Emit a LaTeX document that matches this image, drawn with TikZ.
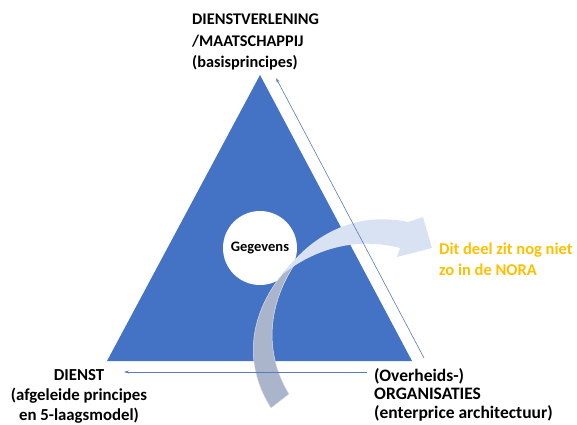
\documentclass[tikz,border=0pt]{standalone}
\usepackage{fontspec}
\setmainfont{Carlito}
\usetikzlibrary{arrows.meta}
\definecolor{triblue}{HTML}{4472C4}
\definecolor{bandgray}{HTML}{AAB4CA}
\definecolor{bandlight}{HTML}{D9E2F3}
\definecolor{noragold}{HTML}{FFC000}
\definecolor{linkblue}{HTML}{5A7BB8}

\begin{document}
\begin{tikzpicture}[
    x=1pt, y=-1pt,
    every node/.style={font=\fontsize{16.3}{21.5}\selectfont\bfseries},
    corner/.style={align=left, anchor=north west, inner sep=0pt},
    data/.style={circle, fill=white, minimum size=74pt, inner sep=0pt, font=\fontsize{14.5}{17}\selectfont\bfseries},
    link/.style={-{Stealth[length=5pt,width=3pt]}, draw=linkblue, line width=0.6pt}
]
    \useasboundingbox (0,0) rectangle (577,424);

    % Triangle corners
    \coordinate (top) at (260,75);
    \coordinate (left) at (107,361);
    \coordinate (right) at (412,361);
    \fill[triblue] (top) -- (right) -- (left) -- cycle;

    % Gegevens in the middle
    \node[data] (gegevens) at (260,248) {Gegevens};

    % Gray band (downwards)
    \fill[bandgray, draw=white!60!bandgray, line width=0.5pt]
        (302,254) .. controls (260,290) and (234,350) .. (271,408)
        -- (289,394)
        .. controls (262,350) and (268,298) .. (302,254) -- cycle;

    % Light band with arrow head (to the right)
    \fill[bandlight]
        (283,274) .. controls (315,230) and (360,212) .. (408,222)
        -- (423,217) -- (432,248) -- (397,257) -- (400,248)
        .. controls (362,238) and (320,245) .. (283,274) -- cycle;

    % Corner labels
    \node[corner] (maatschappij) at (192,14) {DIENSTVERLENING\\/MAATSCHAPPIJ\\(basisprincipes)};
    \node[corner, anchor=north, align=center, font=\fontsize{16.8}{20}\selectfont\bfseries] (dienst) at (79,369) {DIENST\\(afgeleide principes\\en 5-laagsmodel)};
    \node[corner, font=\fontsize{17.5}{18.5}\selectfont\bfseries] (organisaties) at (374,368) {(Overheids-)\\ORGANISATIES\\(enterprice architectuur)};
    \node[corner, text=noragold, font=\fontsize{16.5}{21}\selectfont\bfseries] (nora) at (439,243) {Dit deel zit nog niet\\zo in de NORA};

    % Arrows along the sides
    \coordinate (rs) at (424,358);
    \coordinate (re) at (276,78);
    \coordinate (bs) at (367,372);
    \coordinate (be) at (124,372);
    \draw[link] (rs) -- (re);
    \draw[link] (bs) -- (be);

\end{tikzpicture}
\end{document}
